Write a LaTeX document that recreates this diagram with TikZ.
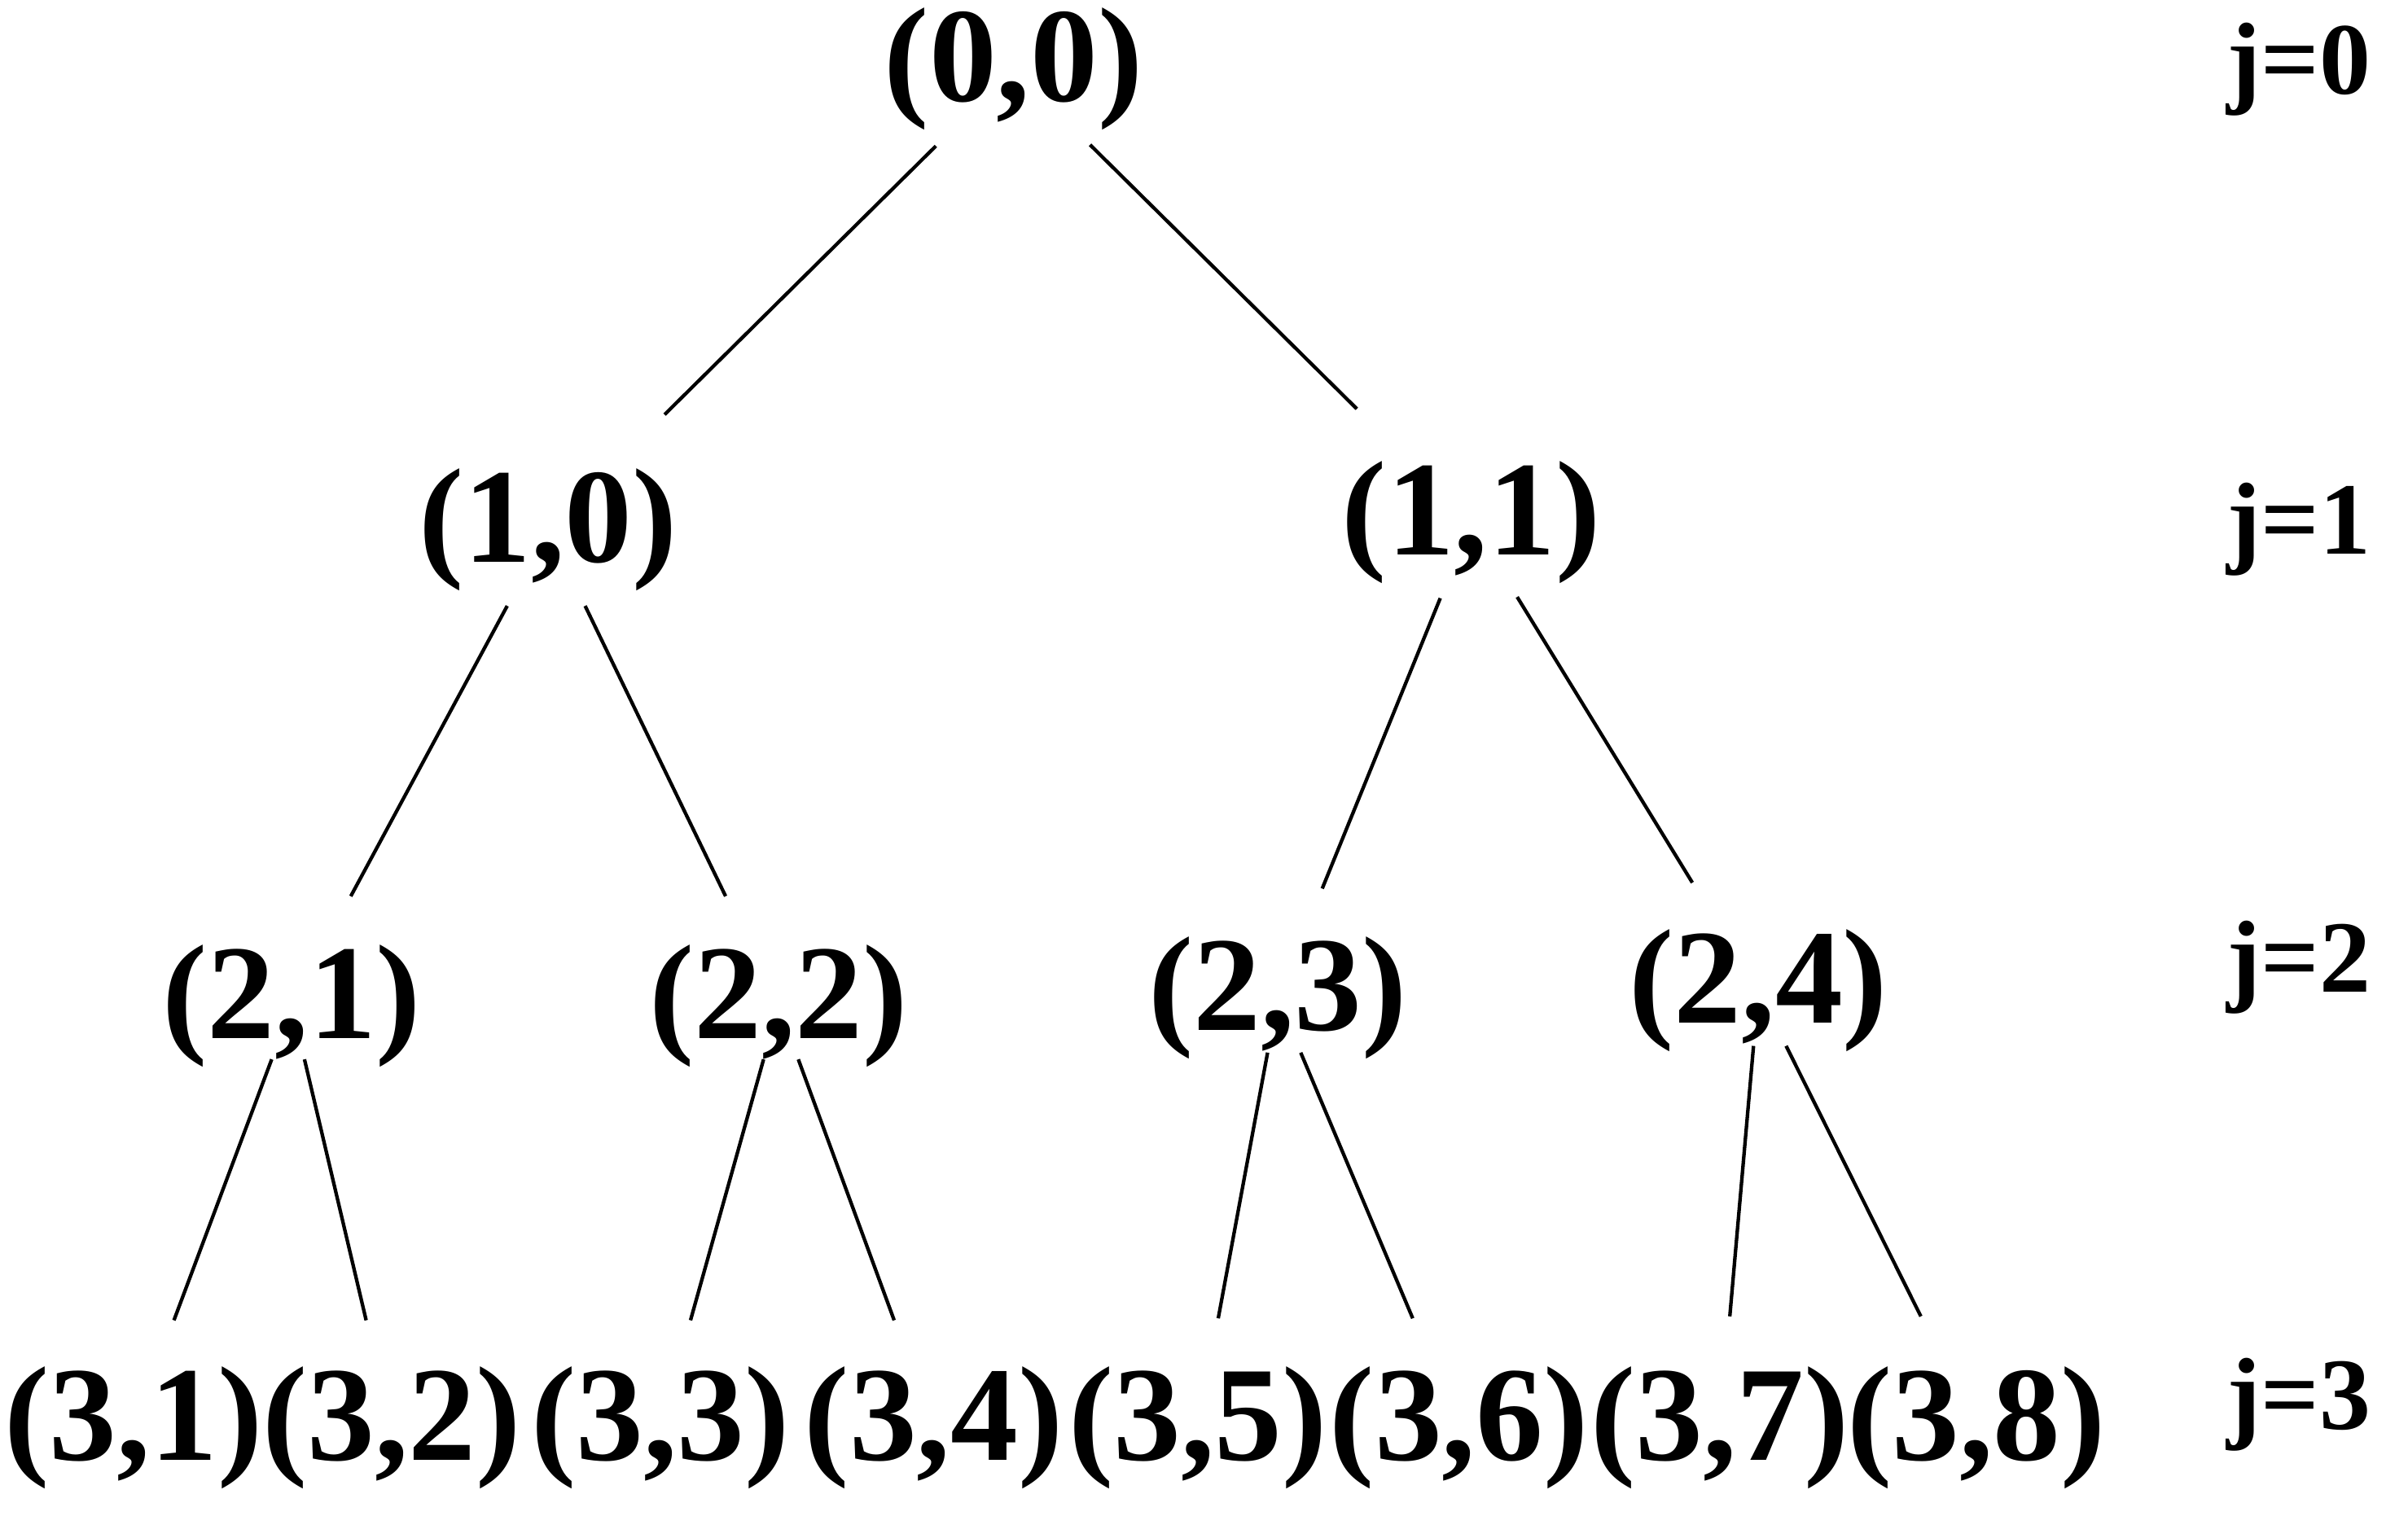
\documentclass[tikz,border=0pt]{standalone}
\usepackage{fontspec}
\setmainfont{Liberation Serif}
\usetikzlibrary{calc}
\begin{document}
\begin{tikzpicture}[x=0.02cm,y=-0.02cm,
  tn/.style={inner sep=0pt,font=\bfseries\fontsize{50}{50}\selectfont},
  lab/.style={inner sep=0pt,font=\bfseries\fontsize{38}{38}\selectfont},
  edge/.style={line width=1.3pt}]
\useasboundingbox (0,0) rectangle (1568,987);
\node[tn] (a) at (660,45) {(0,0)};
\node[tn] (b0) at (357,345) {(1,0)};
\node[tn] (b1) at (958,340) {(1,1)};
\node[tn] (c1) at (190,655) {(2,1)};
\node[tn] (c2) at (507,655) {(2,2)};
\node[tn] (c3) at (832,650) {(2,3)};
\node[tn] (c4) at (1145,645) {(2,4)};
\foreach \k/\x in {1/87,2/255,3/430,4/608,5/780,6/950,7/1120,8/1287}
  \node[tn] (d\k) at (\x,930) {(3,\k)};
\node[lab] (j0) at (1497,45) {j=0};
\node[lab] (j1) at (1497,345) {j=1};
\node[lab] (j2) at (1497,630) {j=2};
\node[lab] (j3) at (1497,915) {j=3};
\foreach \p/\c in {a/b0,a/b1}
  \draw[edge] ($(\p.center)!0.167!(\c.center)$) -- ($(\p.center)!0.75!(\c.center)$);
\foreach \p/\c in {b0/c1,b0/c2,b1/c3,b1/c4}
  \draw[edge] ($(\p.center)!0.16!(\c.center)$) -- ($(\p.center)!0.77!(\c.center)$);
\foreach \p/\c in {c1/d1,c1/d2,c2/d3,c2/d4,c3/d5,c3/d6,c4/d7,c4/d8}
  \draw[edge] ($(\p.center)!0.127!(\c.center)$) -- ($(\p.center)!0.745!(\c.center)$);
\end{tikzpicture}
\end{document}
